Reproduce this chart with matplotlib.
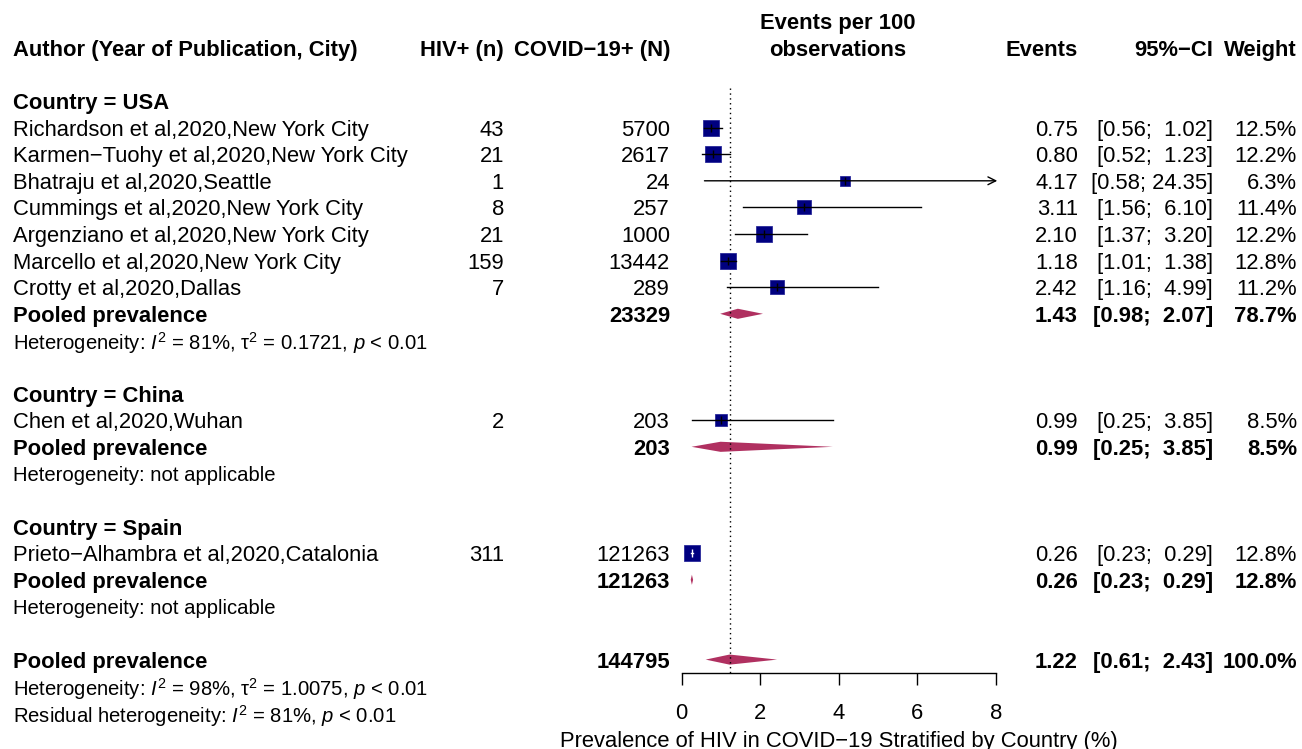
import matplotlib
matplotlib.use('Agg')
import matplotlib.pyplot as plt
import numpy as np

plt.rcParams['font.family'] = ['Liberation Sans', 'DejaVu Sans']
plt.rcParams['mathtext.fontset'] = 'custom'
plt.rcParams['mathtext.rm'] = 'Liberation Sans'
plt.rcParams['mathtext.it'] = 'Liberation Sans:italic'
plt.rcParams['mathtext.bf'] = 'Liberation Sans:bold'

# ---- data ----
countries = ['USA', 'China', 'Spain']
studies = ['Richardson et al,2020,New York City',
           'Karmen\u2212Tuohy et al,2020,New York City',
           'Bhatraju et al,2020,Seattle',
           'Cummings et al,2020,New York City',
           'Argenziano et al,2020,New York City',
           'Marcello et al,2020,New York City',
           'Crotty et al,2020,Dallas',
           'Chen et al,2020,Wuhan',
           'Prieto\u2212Alhambra et al,2020,Catalonia']
study_country = ['USA', 'USA', 'USA', 'USA', 'USA', 'USA', 'USA', 'China', 'Spain']
hiv_n = [43, 21, 1, 8, 21, 159, 7, 2, 311]
covid_n = [5700, 2617, 24, 257, 1000, 13442, 289, 203, 121263]
events = [0.75, 0.80, 4.17, 3.11, 2.10, 1.18, 2.42, 0.99, 0.26]
ci_lo = [0.56, 0.52, 0.58, 1.56, 1.37, 1.01, 1.16, 0.25, 0.23]
ci_hi = [1.02, 1.23, 24.35, 6.10, 3.20, 1.38, 4.99, 3.85, 0.29]
weights = [12.5, 12.2, 6.3, 11.4, 12.2, 12.8, 11.2, 8.5, 12.8]

# pooled per country
pooled_n = [23329, 203, 121263]
pooled_est = [1.43, 0.99, 0.26]
pooled_lo = [0.98, 0.25, 0.23]
pooled_hi = [2.07, 3.85, 0.29]
pooled_w = [78.7, 8.5, 12.8]
het_text = [r'Heterogeneity: $\mathit{I}^2$ = 81%, \u03c4$^2$ = 0.1721, $\mathit{p}$ < 0.01',
            'Heterogeneity: not applicable',
            'Heterogeneity: not applicable']

# overall
overall_n = 144795
overall_est = 1.22
overall_lo = 0.61
overall_hi = 2.43
overall_w = 100.0
overall_het = 'Heterogeneity: $\\mathit{I}^2$ = 98%, \u03c4$^2$ = 1.0075, $\\mathit{p}$ < 0.01'
resid_het = r'Residual heterogeneity: $\mathit{I}^2$ = 81%, $\mathit{p}$ < 0.01'
het_text[0] = 'Heterogeneity: $\\mathit{I}^2$ = 81%, \u03c4$^2$ = 0.1721, $\\mathit{p}$ < 0.01'

x_ticks = [0, 2, 4, 6, 8]
x_label = 'Prevalence of HIV in COVID\u221219 Stratified by Country (%)'

# ---- layout ----
W, H = 1302, 749
fig = plt.figure(figsize=(W / 100, H / 100), dpi=100)
row_top, row_h = 101, 26.6
ylim = ((H - row_top) / row_h, -row_top / row_h)

ax = fig.add_axes([0, 0, 1, 1])
ax.set_xlim(0, W)
ax.set_ylim(*ylim)
ax.axis('off')

x0_px, x8_px = 681.7, 995.7
ax2 = fig.add_axes([x0_px / W, 0, (x8_px - x0_px) / W, 1])
ax2.set_xlim(0, 8)
ax2.set_ylim(*ylim)
ax2.patch.set_visible(False)
for s in ['top', 'left', 'right']:
    ax2.spines[s].set_visible(False)
axis_row = 21.52
ax2.spines['bottom'].set_position(('data', axis_row))
ax2.spines['bottom'].set_bounds(0, 8)
ax2.spines['bottom'].set_linewidth(1.0)
ax2.set_yticks([])
ax2.set_xticks(x_ticks)
ax2.tick_params(axis='x', direction='out', length=8.6, width=1.0,
                labelsize=15.8, pad=12.5)

FS = 15.8
FS_HET = 14.6
col_author = 13
col_hiv = 504
col_covid = 670
col_mid = 838
col_events = 1078
col_ci = 1213
col_w = 1297
SQ = '#000080'
DIA = '#B03060'


def txt(x, r, s, ha='left', bold=False, size=FS):
    ax.text(x, r, s, ha=ha, va='center_baseline', fontsize=size,
            fontweight='bold' if bold else 'normal')


# headers
txt(col_author, -2, 'Author (Year of Publication, City)', bold=True)
txt(col_hiv, -2, 'HIV+ (n)', ha='right', bold=True)
txt(col_covid, -2, 'COVID\u221219+ (N)', ha='right', bold=True)
txt(col_mid, -3, 'Events per 100', ha='center', bold=True)
txt(col_mid, -2, 'observations', ha='center', bold=True)
txt(col_events, -2, 'Events', ha='right', bold=True)
txt(col_ci, -2, '95%\u2212CI', ha='right', bold=True)
txt(col_w, -2, 'Weight', ha='right', bold=True)


def diamond(r, est, lo, hi, h=0.19):
    ax2.fill([lo, est, hi, est], [r, r - h, r, r + h], color=DIA, lw=0, clip_on=False)


def stat_cols(r, est, lo, hi, w, bold=False):
    txt(col_events, r, f'{est:.2f}', ha='right', bold=bold)
    txt(col_ci, r, f'[{lo:.2f}; {hi:5.2f}]', ha='right', bold=bold)
    txt(col_w, r, f'{w:.1f}%', ha='right', bold=bold)


row = 0
for g, country in enumerate(countries):
    txt(col_author, row, f'Country = {country}', bold=True)
    row += 1
    for i in range(len(studies)):
        if study_country[i] != country:
            continue
        txt(col_author, row, studies[i])
        txt(col_hiv, row, str(hiv_n[i]), ha='right')
        txt(col_covid, row, str(covid_n[i]), ha='right')
        stat_cols(row, events[i], ci_lo[i], ci_hi[i], weights[i])
        ms = 3.1 * np.sqrt(weights[i])
        ax2.plot(events[i], row, marker='s', ms=ms, mfc=SQ, mec='#2a2a9a',
                 mew=0.6, clip_on=False, zorder=3)
        half = ms / 0.72 / 2 / 39.25
        inside = ci_lo[i] > events[i] - half and ci_hi[i] < events[i] + half
        lc = 'white' if inside else 'black'
        if ci_hi[i] > 8:
            ax2.annotate('', xy=(8.04, row), xytext=(ci_lo[i], row),
                         arrowprops=dict(arrowstyle='->', color='black', lw=1.0,
                                         mutation_scale=14, shrinkA=0, shrinkB=0),
                         annotation_clip=False, zorder=4)
        else:
            ax2.plot([ci_lo[i], ci_hi[i]], [row, row], color=lc, lw=1.0,
                     clip_on=False, zorder=4)
        ax2.plot(events[i], row, marker='|', ms=6, mew=1.0, color=lc,
                 clip_on=False, zorder=5)
        row += 1
    txt(col_author, row, 'Pooled prevalence', bold=True)
    txt(col_covid, row, str(pooled_n[g]), ha='right', bold=True)
    stat_cols(row, pooled_est[g], pooled_lo[g], pooled_hi[g], pooled_w[g], bold=True)
    diamond(row, pooled_est[g], pooled_lo[g], pooled_hi[g])
    row += 1
    txt(col_author, row, het_text[g], size=FS_HET)
    row += 2

txt(col_author, row, 'Pooled prevalence', bold=True)
txt(col_covid, row, str(overall_n), ha='right', bold=True)
stat_cols(row, overall_est, overall_lo, overall_hi, overall_w, bold=True)
diamond(row, overall_est, overall_lo, overall_hi)
txt(col_author, row + 1, overall_het, size=FS_HET)
txt(col_author, row + 2, resid_het, size=FS_HET)

# reference line at overall estimate
ax2.plot([overall_est, overall_est], [-0.5, axis_row], ls=(0, (1, 2.5)),
         color='black', lw=1.0, clip_on=False, zorder=1)

ax2.text(4, 24.0, x_label, ha='center', va='center_baseline', fontsize=FS)

fig.savefig('out.png', dpi=100)
